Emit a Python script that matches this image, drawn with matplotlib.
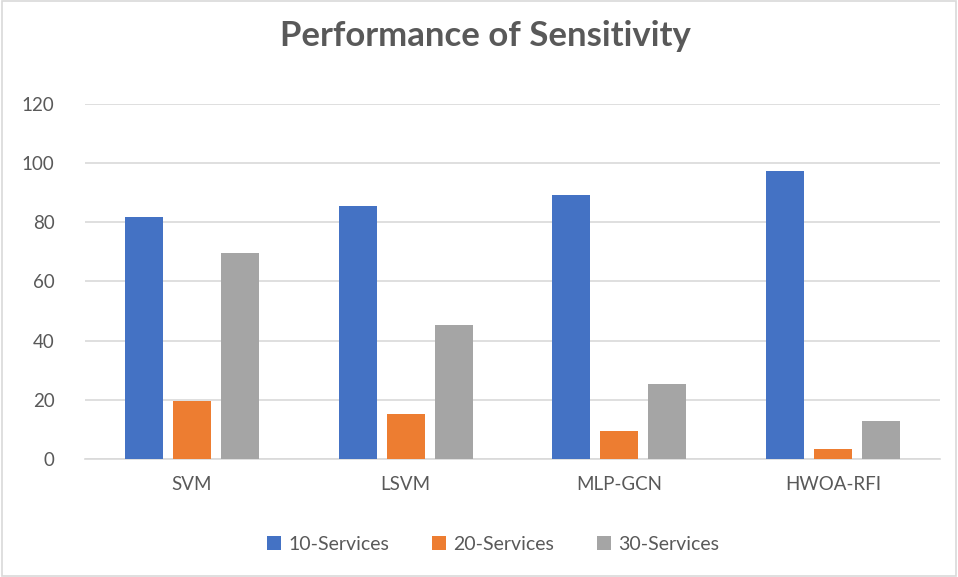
import numpy as np
import matplotlib
matplotlib.use('Agg')
import matplotlib.pyplot as plt
from matplotlib.patches import Rectangle

categories = ['SVM', 'LSVM', 'MLP-GCN', 'HWOA-RFI']
series_names = ['10-Services', '20-Services', '30-Services']
s10 = [81.8, 85.4, 89.4, 97.4]
s20 = [19.6, 15.2, 9.6, 3.3]
s30 = [69.7, 45.3, 25.5, 12.9]
colors = ['#4472C4', '#ED7D31', '#A5A5A5']
yticks = [0, 20, 40, 60, 80, 100, 120]

plt.rcParams['font.family'] = ['Lato', 'DejaVu Sans']
txt = '#595959'

fig = plt.figure(figsize=(9.58, 5.77), dpi=100)
ax = fig.add_axes([0.0887, 0.2045, 0.8925, 0.6153])

x = np.arange(len(categories))
w = 0.178
step = 0.2246
for i, (vals, name, c) in enumerate(zip([s10, s20, s30], series_names, colors)):
    ax.bar(x + (i - 1) * step, vals, w, color=c, label=name, zorder=3)

ax.set_xlim(-0.5, 3.5)
ax.set_ylim(0, 120)
ax.set_yticks(yticks)
ax.set_xticks(x)
ax.set_xticklabels(categories)
ax.grid(axis='y', color='#D9D9D9', linewidth=1.2, zorder=0)
for s in ['top', 'right', 'left']:
    ax.spines[s].set_visible(False)
ax.spines['bottom'].set_color('#D9D9D9')
ax.spines['bottom'].set_linewidth(1.2)
ax.tick_params(length=0, labelsize=13.5, colors=txt)
ax.tick_params(axis='y', pad=22)
ax.tick_params(axis='x', pad=12)

fig.text(0.507, 0.938, 'Performance of Sensitivity', ha='center', va='center',
         fontsize=25, fontweight='bold', color=txt)

leg = fig.legend(loc='center', bbox_to_anchor=(0.515, 0.057), ncol=3, frameon=False,
                 fontsize=14, handlelength=0.7, handleheight=0.7, columnspacing=2.2,
                 handletextpad=0.4)
for t in leg.get_texts():
    t.set_color(txt)

fig.patches.append(Rectangle((0.002, 0.002), 0.996, 0.996, transform=fig.transFigure,
                             fill=False, edgecolor='#D9D9D9', linewidth=1.2))

fig.savefig('out.png', dpi=100)
